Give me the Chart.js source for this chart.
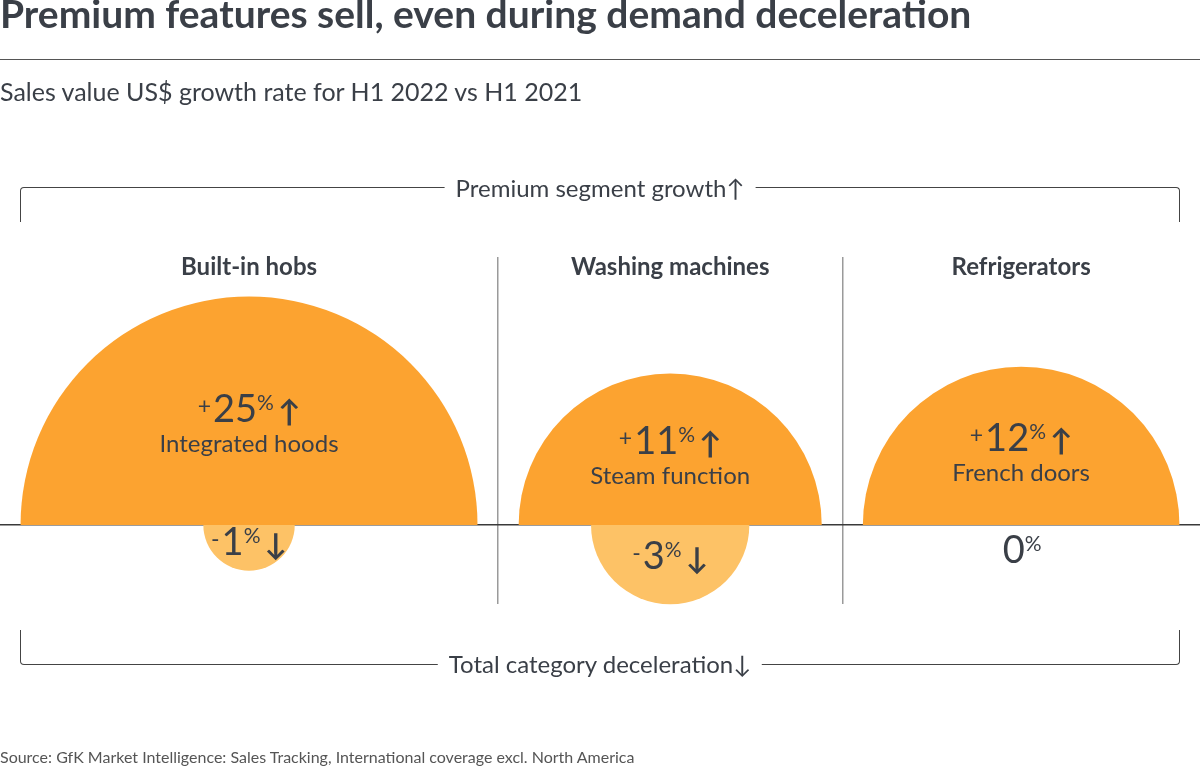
<!DOCTYPE html>
<html lang="en">

<head>
  <meta charset="UTF-8">
  <title>Premium features sell</title>
  <script src="https://cdn.jsdelivr.net/npm/chart.js"></script>
  <style>
    body { margin: 0; background: #fff; font-family: Lato, "Noto Sans", sans-serif; color: #3a3f47; }
    .page { position: relative; width: 1200px; height: 767px; overflow: hidden; }
    .page > * { position: absolute; }
    #chart { left: 0; top: 0; }
    .title { left: 0; top: -6px; font-size: 39px; font-weight: 700; line-height: 1; white-space: nowrap; }
    .rule { left: 0; top: 59px; width: 1200px; height: 0; border-top: 1px solid #555; }
    .subtitle { left: 0; top: 79px; font-size: 25px; line-height: 1; white-space: nowrap; }
    .bracket { left: 20px; width: 1158px; height: 34px; border: 1.5px solid #444; }
    .bracket.top { top: 187px; border-bottom: none; border-radius: 4px 4px 0 0; }
    .bracket.bottom { top: 630px; border-top: none; border-radius: 0 0 4px 4px; }
    .bracket span { position: absolute; left: 50%; transform: translateX(-50%); background: #fff; padding: 0 11px; font-size: 24px; line-height: 1; white-space: nowrap; }
    .bracket.top span { top: -12px; }
    .bracket.bottom span { bottom: -12px; }
    .source { left: 0; top: 749px; font-size: 16px; line-height: 1; color: #555; white-space: nowrap; }
  </style>
</head>

<body>
  <div class="page">
    <canvas id="chart" width="1200" height="767"></canvas>
    <div class="title">Premium features sell, even during demand deceleration</div>
    <div class="rule"></div>
    <div class="subtitle">Sales value US$ growth rate for H1 2022 vs H1 2021</div>
    <div class="bracket top"><span>Premium segment growth↑</span></div>
    <div class="bracket bottom"><span>Total category deceleration↓</span></div>
    <div class="source">Source: GfK Market Intelligence: Sales Tracking, International coverage excl. North America</div>
  </div>

  <script>
    // Data
    const categories = ["Built-in hobs", "Washing machines", "Refrigerators"];
    const premiumFeatures = ["Integrated hoods", "Steam function", "French doors"];
    const premiumGrowth = [25, 11, 12]; // % growth of premium segment
    const totalGrowth = [-1, -3, 0]; // % growth of total category

    const textColor = "#3a3f47";
    const premiumColor = "#fca330";
    const totalColor = "#fdc266";
    const groupGap = 0.9; // spacing between groups, in sqrt(%) units

    // circle area ~ value, so radius ~ sqrt(value); x axis runs in sqrt(%) units
    const groupWidths = categories.map((c, i) =>
      2 * Math.sqrt(Math.max(Math.abs(premiumGrowth[i]), Math.abs(totalGrowth[i]))) + groupGap);
    const groupCenters = [];
    const groupBounds = [];
    let acc = 0;
    groupWidths.forEach((w, i) => {
      groupCenters.push(acc + w / 2);
      acc += w;
      if (i < groupWidths.length - 1) groupBounds.push(acc);
    });
    const xMax = acc;

    function unitPx(chart) {
      const x = chart.scales.x;
      return x.getPixelForValue(1) - x.getPixelForValue(0);
    }

    // keep premium bubbles above the baseline and total bubbles below it
    const halfClip = {
      id: "halfClip",
      beforeDatasetDraw(chart, args) {
        const ctx = chart.ctx;
        const y0 = chart.scales.y.getPixelForValue(0);
        ctx.save();
        ctx.beginPath();
        if (args.index === 0) ctx.rect(0, 0, chart.width, y0);
        else ctx.rect(0, y0, chart.width, chart.height - y0);
        ctx.clip();
      },
      afterDatasetDraw(chart) {
        chart.ctx.restore();
      }
    };

    function drawRich(ctx, parts, cx, baseline) {
      let total = 0;
      parts.forEach(p => {
        ctx.font = p.font;
        p.w = ctx.measureText(p.text).width + (p.gap || 0);
        total += p.w;
      });
      let x = cx - total / 2;
      ctx.textAlign = "left";
      ctx.textBaseline = "alphabetic";
      parts.forEach(p => {
        ctx.font = p.font;
        ctx.fillText(p.text, x + (p.gap || 0), baseline + (p.dy || 0));
        x += p.w;
      });
    }

    function valueParts(v) {
      const parts = [];
      if (v !== 0) parts.push({ text: v > 0 ? "+" : "-", font: "23px Lato", dy: -8, gap: 0 });
      parts.push({ text: String(Math.abs(v)), font: "38px Lato", gap: 2 });
      parts.push({ text: "%", font: "21px Lato", dy: -12 });
      if (v > 0) parts.push({ text: "↑", font: "bold 30px Lato", gap: 4 });
      if (v < 0) parts.push({ text: "↓", font: "bold 30px Lato", gap: 4 });
      return parts;
    }

    const labelsPlugin = {
      id: "labels",
      afterDatasetsDraw(chart) {
        const ctx = chart.ctx;
        const x = chart.scales.x;
        const y0 = chart.scales.y.getPixelForValue(0);
        const u = unitPx(chart);
        ctx.save();
        ctx.fillStyle = textColor;
        categories.forEach((cat, i) => {
          const cx = x.getPixelForValue(groupCenters[i]);
          ctx.font = "bold 24px Lato";
          ctx.textAlign = "center";
          ctx.textBaseline = "alphabetic";
          ctx.fillText(cat, cx, chart.chartArea.top + 18);

          const rUp = Math.sqrt(premiumGrowth[i]) * u;
          const featBase = y0 - (0.41 * rUp - 21);
          drawRich(ctx, valueParts(premiumGrowth[i]), cx, featBase - 30);
          ctx.font = "24px Lato";
          ctx.textAlign = "center";
          ctx.fillText(premiumFeatures[i], cx, featBase);

          const rDown = Math.sqrt(Math.abs(totalGrowth[i])) * u;
          const off = rDown > 0 ? 12 + 0.4 * rDown : 38;
          drawRich(ctx, valueParts(totalGrowth[i]), cx, y0 + off);
        });
        ctx.restore();
      }
    };

    const bubbleData = () => categories.map((c, i) => ({ x: groupCenters[i], y: 0, r: 0 }));

    const chart = new Chart(document.getElementById("chart").getContext("2d"), {
      type: "bubble",
      data: {
        datasets: [{
          label: "Premium segment growth",
          data: bubbleData(),
          backgroundColor: premiumColor,
          borderWidth: 0,
          clip: false,
        }, {
          label: "Total category growth",
          data: bubbleData(),
          backgroundColor: totalColor,
          borderWidth: 0,
          clip: false,
        }],
      },
      options: {
        responsive: false,
        animation: false,
        events: [],
        layout: { autoPadding: false, padding: { top: 257, bottom: 163, left: 0, right: 0 } },
        plugins: { legend: { display: false }, tooltip: { enabled: false }, title: { display: false } },
        scales: {
          x: {
            type: "linear",
            min: 0,
            max: xMax,
            afterBuildTicks: scale => { scale.ticks = groupBounds.map(v => ({ value: v })); },
            ticks: { display: false },
            grid: { color: "#9a9a9a", lineWidth: 1.5, drawTicks: false },
            border: { display: false },
          },
          y: {
            type: "linear",
            min: -1.75,
            max: 5.94,
            z: 1,
            afterBuildTicks: scale => { scale.ticks = [{ value: 0 }]; },
            ticks: { display: false },
            grid: { color: "#3a3a3a", lineWidth: 1.5, drawTicks: false },
            border: { display: false },
          },
        },
      },
      plugins: [halfClip, labelsPlugin],
    });

    // bubble radius in pixels, once the x scale is laid out: r = sqrt(|value|) axis units
    const u = unitPx(chart);
    chart.data.datasets[0].data.forEach((d, i) => { d.r = Math.sqrt(Math.abs(premiumGrowth[i])) * u; });
    chart.data.datasets[1].data.forEach((d, i) => { d.r = Math.sqrt(Math.abs(totalGrowth[i])) * u; });
    chart.update();
  </script>
</body>

</html>
